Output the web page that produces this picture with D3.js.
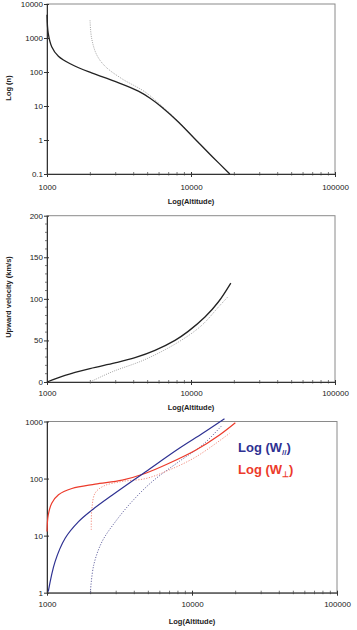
<!DOCTYPE html>
<html>
<head>
<meta charset="utf-8">
<script src="https://cdn.jsdelivr.net/npm/d3@7"></script>
<style>
  body { margin: 0; background: #fff; }
  text { font-family: "Liberation Sans", Arial, sans-serif; }
  .axis path, .axis line { stroke: #333; }
  .axis text { font-size: 8px; fill: #222; }
  .title { font-size: 7.5px; font-weight: bold; fill: #222; }
</style>
</head>
<body>
<div id="chart"></div>
<script>
// --- data ---
const xTicks = [1000, 10000, 100000]
const xMinor = [2000, 3000, 4000, 5000, 6000, 7000, 8000, 9000,
  20000, 30000, 40000, 50000, 60000, 70000, 80000, 90000]

// panel 1 : log(n)
const nTicks = [0.1, 1, 10, 100, 1000, 10000]
const nSolidAlt = [1000, 1020, 1078, 1200, 1485, 2040, 2965, 4310, 5200, 6250, 8170, 10650, 13900, 18600]
const nSolidVal = [4800, 1360, 555, 290, 166, 94, 53, 27.5, 17, 9.4, 3.4, 1.07, 0.34, 0.1]
const nDotAlt = [1990, 2040, 2210, 2530, 3300, 4790, 6300, 8250, 10750, 14000, 18500]
const nDotVal = [3300, 1000, 325, 148, 64, 26, 9.8, 3.4, 1.05, 0.34, 0.1]

// panel 2 : upward velocity
const vTicks = [0, 50, 100, 150, 200]
const vMinor = [10, 20, 30, 40, 60, 70, 80, 90, 110, 120, 130, 140, 160, 170, 180, 190]
const vSolidAlt = [1000, 1334, 1990, 2965, 4085, 5620, 7740, 9560, 12500, 15480, 18900]
const vSolidVal = [0, 8, 16.1, 22.9, 29.3, 38.1, 50.1, 60.9, 78.1, 96.2, 119]
const vDotAlt = [1990, 2810, 4790, 8170, 11850, 15480, 18150]
const vDotVal = [0, 12, 27, 48, 68, 90, 103]

// panel 3 : W parallel / W perpendicular
const wTicks = [1, 10, 100, 1000]
const wParAlt = [1020, 1137, 1334, 1650, 2040, 2810, 4790, 8170, 11850, 16750]
const wParVal = [1.04, 3.5, 9, 17.6, 28, 51, 132, 340, 623, 1120]
const wParDotAlt = [1990, 2100, 2400, 2965, 3870, 5330, 8170, 11850, 16070]
const wParDotVal = [1, 3.05, 7.9, 17.6, 40, 89, 200, 390, 850]
const wPerAlt = [1000, 1020, 1078, 1200, 1485, 2150, 3300, 4790, 6950, 10650, 15480, 19900]
const wPerVal = [11.8, 23, 37, 52, 67, 80, 94, 124, 185, 316, 580, 950]
const wPerDotAlt = [2020, 2040, 2150, 2460, 3300, 4790, 6950, 10650, 18150]
const wPerDotVal = [12.6, 30, 56, 74, 89, 100, 141, 240, 620]

const blue = '#2e3192'
const red = '#ec3b2b'

const svg = d3.select('#chart').append('svg')
  .attr('width', 357)
  .attr('height', 630)

const zip = (a, b) => a.map((d, i) => [d, b[i]])

function panel({ x0, x1, yTop, yBot, yScale, yTickVals, yMinor, yFmt, labelY, xLabelBase, titleBase, yTitle }) {
  const x = d3.scaleLog().domain([1000, 100000]).range([x0, x1])
  const y = yScale.range([yBot, yTop])
  const g = svg.append('g')

  // frame
  g.append('rect')
    .attr('x', x0).attr('y', yTop)
    .attr('width', x1 - x0).attr('height', yBot - yTop)
    .attr('fill', 'none').attr('stroke', '#8a8a8a').attr('stroke-width', 1)

  // minor x ticks
  g.selectAll('.xminor').data(xMinor).join('line')
    .attr('x1', d => x(d)).attr('x2', d => x(d))
    .attr('y1', yBot - 2).attr('y2', yBot + 1.5)
    .attr('stroke', '#555').attr('stroke-width', 0.8)

  if (yMinor) {
    g.selectAll('.yminor').data(yMinor).join('line')
      .attr('x1', x0 - 2).attr('x2', x0)
      .attr('y1', d => y(d)).attr('y2', d => y(d))
      .attr('stroke', '#555').attr('stroke-width', 0.8)
  }

  const ax = g.append('g').attr('class', 'axis')
    .attr('transform', `translate(0,${yBot})`)
    .call(d3.axisBottom(x).tickValues(xTicks).tickFormat(d3.format('d')).tickSize(3).tickSizeOuter(0))
  ax.selectAll('text').attr('y', xLabelBase - yBot).attr('dy', 0)
  ax.selectAll('.tick line').attr('y1', -2)

  const ay = g.append('g').attr('class', 'axis')
    .attr('transform', `translate(${x0},0)`)
    .call(d3.axisLeft(y).tickValues(yTickVals).tickFormat(yFmt).tickSize(3).tickSizeOuter(0))
  ay.selectAll('text').attr('x', -4).attr('dy', '0.32em')
  ay.selectAll('.tick line').attr('x1', 2)

  g.append('text').attr('class', 'title')
    .attr('x', (x0 + x1) / 2).attr('y', titleBase)
    .attr('text-anchor', 'middle')
    .text('Log(Altitude)')

  if (yTitle) {
    g.append('text').attr('class', 'title')
      .attr('transform', `translate(11,${labelY}) rotate(-90)`)
      .attr('text-anchor', 'middle')
      .text(yTitle)
  }

  return { g, x, y }
}

function drawLine(p, alt, val, color, width, dash) {
  const line = d3.line()
    .x(d => p.x(d[0]))
    .y(d => p.y(d[1]))
    .curve(d3.curveCatmullRom.alpha(0.5))
  p.g.append('path')
    .datum(zip(alt, val))
    .attr('d', line)
    .attr('fill', 'none')
    .attr('stroke', color)
    .attr('stroke-width', width)
    .attr('stroke-dasharray', dash || null)
}

const fmtLog = d => d < 1 ? '0.1' : d3.format('d')(d)

// top panel
const p1 = panel({
  x0: 47, x1: 335, yTop: 4, yBot: 174,
  yScale: d3.scaleLog().domain([0.1, 10000]),
  yTickVals: nTicks, yFmt: fmtLog,
  labelY: 88, xLabelBase: 189.5, titleBase: 203.5, yTitle: 'Log (n)'
})
drawLine(p1, nDotAlt, nDotVal, '#9a9a9a', 0.9, '1,1.2')
drawLine(p1, nSolidAlt, nSolidVal, '#222', 1.3)

// middle panel
const p2 = panel({
  x0: 47, x1: 335, yTop: 215.7, yBot: 382,
  yScale: d3.scaleLinear().domain([0, 200]),
  yTickVals: vTicks, yMinor: vMinor, yFmt: d3.format('d'),
  labelY: 297, xLabelBase: 396, titleBase: 410, yTitle: 'Upward velocity (km/s)'
})
drawLine(p2, vDotAlt, vDotVal, '#9a9a9a', 0.9, '1,1.2')
drawLine(p2, vSolidAlt, vSolidVal, '#222', 1.3)

// bottom panel
const p3 = panel({
  x0: 47, x1: 337, yTop: 421.5, yBot: 592.7,
  yScale: d3.scaleLog().domain([1, 1000]),
  yTickVals: wTicks, yFmt: d3.format('d'),
  labelY: 0, xLabelBase: 607, titleBase: 623.5, yTitle: null
})
drawLine(p3, wParDotAlt, wParDotVal, '#5a5a9a', 0.9, '1.2,1.5')
drawLine(p3, wPerDotAlt, wPerDotVal, '#f08070', 0.9, '1.2,1.5')
drawLine(p3, wPerAlt, wPerVal, red, 1.2)
drawLine(p3, wParAlt, wParVal, blue, 1.2)

// legend
const leg = [
  { label: 'Log (W', sub: '//', color: blue, yb: 452 },
  { label: 'Log (W', sub: '\u22a5', color: red, yb: 474 }
]
const lt = p3.g.selectAll('.leg').data(leg).join('text')
  .attr('x', 238).attr('y', d => d.yb)
  .attr('fill', d => d.color)
  .style('font-size', '13px').style('font-weight', 'bold')
lt.append('tspan').text(d => d.label)
lt.append('tspan').attr('dy', 3).style('font-size', '8px').text(d => d.sub)
lt.append('tspan').attr('dy', -3).text(')')
</script>
</body>
</html>
